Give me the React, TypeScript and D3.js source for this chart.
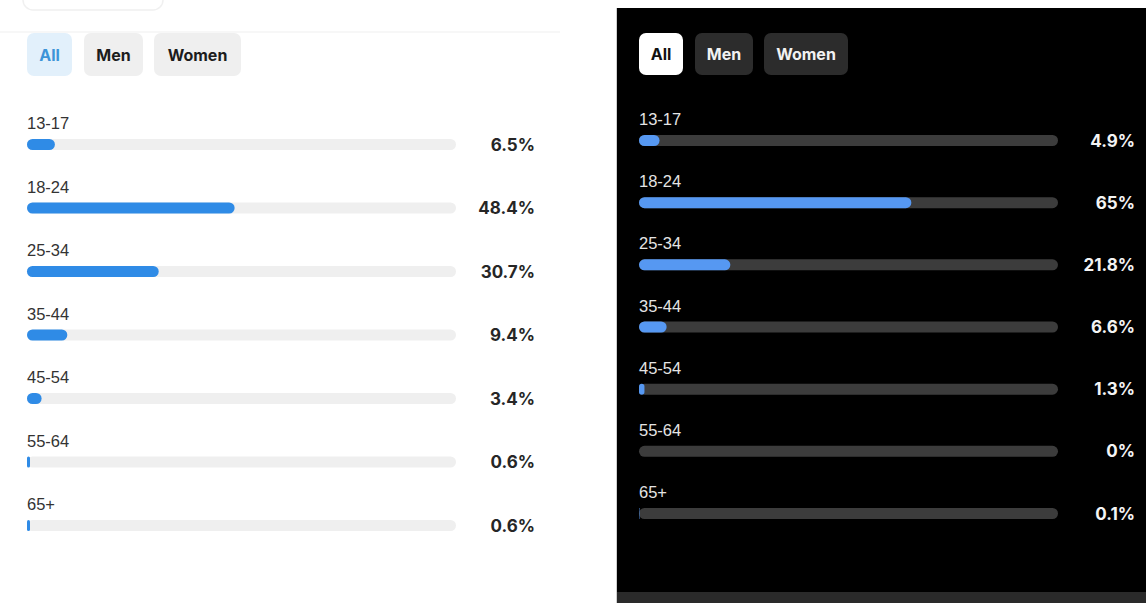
import React from "react";
import * as d3 from "d3";

const categories = ["13-17", "18-24", "25-34", "35-44", "45-54", "55-64", "65+"];
const lightValues = [6.5, 48.4, 30.7, 9.4, 3.4, 0.6, 0.6];
const darkValues = [4.9, 65, 21.8, 6.6, 1.3, 0, 0.1];
const filters = ["All", "Men", "Women"];

const FONT = "Inter, 'Noto Sans', 'Liberation Sans', sans-serif";
const LABEL_FONT = "'Liberation Sans', Arial, sans-serif";

type Theme = {
  trackX0: number;
  trackX1: number;
  firstBarTop: number;
  lastBarTop: number;
  barH: number;
  valueRight: number;
  track: string;
  fill: string;
  label: string;
  value: string;
  buttons: { x0: number; x1: number }[];
  btnY: number;
  btnH: number;
  btnBaseline: number;
  activeBg: string;
  activeText: string;
  btnBg: string;
  btnText: string;
  minW: number;
};

const lightTheme: Theme = {
  trackX0: 27,
  trackX1: 456,
  firstBarTop: 139,
  lastBarTop: 520,
  barH: 11,
  valueRight: 535,
  track: "#efefef",
  fill: "#2f8be6",
  label: "#333333",
  value: "#262626",
  buttons: [
    { x0: 27, x1: 72 },
    { x0: 84, x1: 143 },
    { x0: 154, x1: 241 },
  ],
  btnY: 33,
  btnH: 43,
  btnBaseline: 61,
  activeBg: "#e2f0fb",
  activeText: "#3d94d8",
  btnBg: "#efefef",
  btnText: "#1c1c1c",
  minW: 3,
};

const darkTheme: Theme = {
  trackX0: 639,
  trackX1: 1058,
  firstBarTop: 135,
  lastBarTop: 508,
  barH: 11,
  valueRight: 1135,
  track: "#3c3c3c",
  fill: "#5698f2",
  label: "#e4e4e4",
  value: "#f4f4f4",
  buttons: [
    { x0: 639, x1: 683 },
    { x0: 695, x1: 753 },
    { x0: 764, x1: 848 },
  ],
  btnY: 33,
  btnH: 42,
  btnBaseline: 60,
  activeBg: "#ffffff",
  activeText: "#111111",
  btnBg: "#2c2c2c",
  btnText: "#f2f2f2",
  minW: 0,
};

function fmt(v: number) {
  return `${d3.format("~r")(v)}%`;
}

function Panel({ theme, values }: { theme: Theme; values: number[] }) {
  const x = d3.scaleLinear().domain([0, 100]).range([theme.trackX0, theme.trackX1]);
  const y = d3
    .scalePoint<string>()
    .domain(categories)
    .range([theme.firstBarTop, theme.lastBarTop]);
  const h = theme.barH;
  return (
    <g>
      {filters.map((f, i) => {
        const b = theme.buttons[i];
        const active = i === 0;
        return (
          <g key={f}>
            <rect
              x={b.x0}
              y={theme.btnY}
              width={b.x1 - b.x0}
              height={theme.btnH}
              rx={7}
              fill={active ? theme.activeBg : theme.btnBg}
            />
            <text
              x={(b.x0 + b.x1) / 2}
              y={theme.btnBaseline}
              textAnchor="middle"
              fontFamily={FONT}
              fontSize={16}
              fontWeight={700}
              fill={active ? theme.activeText : theme.btnText}
            >
              {f}
            </text>
          </g>
        );
      })}
      {categories.map((c, i) => {
        const top = y(c)!;
        const v = values[i];
        let w = x(v) - x(0);
        if (v > 0 && w < theme.minW) w = theme.minW;
        return (
          <g key={c}>
            <text
              x={theme.trackX0}
              y={top - 10}
              fontFamily={LABEL_FONT}
              fontSize={16.5}
              fill={theme.label}
            >
              {c}
            </text>
            <rect
              x={theme.trackX0}
              y={top}
              width={theme.trackX1 - theme.trackX0}
              height={h}
              rx={h / 2}
              fill={theme.track}
            />
            {w > 0 && (
              <rect
                x={theme.trackX0}
                y={top}
                width={w}
                height={h}
                rx={Math.min(h / 2, w / 2)}
                fill={theme.fill}
              />
            )}
            <text
              x={theme.valueRight}
              y={top + h / 2}
              dy="0.36em"
              textAnchor="end"
              fontFamily={FONT}
              fontSize={17}
              fontWeight={700}
              fill={theme.value}
            >
              {fmt(v)}
            </text>
          </g>
        );
      })}
    </g>
  );
}

export default function App() {
  return (
    <svg
      width={1146}
      height={603}
      style={{ position: "absolute", left: 0, top: 0, display: "block" }}
    >
      <rect x={0} y={0} width={1146} height={603} fill="#ffffff" />
      {/* light panel chrome */}
      <rect x={23} y={-30} width={140} height={40} rx={10} fill="none" stroke="#f0f0f0" strokeWidth={1.5} />
      <line x1={0} x2={560} y1={32} y2={32} stroke="#f4f4f4" strokeWidth={1.5} />
      <Panel theme={lightTheme} values={lightValues} />
      {/* dark panel */}
      <rect x={616} y={8} width={1} height={595} fill="#cfcfcf" />
      <rect x={617} y={8} width={529} height={595} fill="#000000" />
      <rect x={617} y={592} width={529} height={11} fill="#2a2a2a" />
      <Panel theme={darkTheme} values={darkValues} />
    </svg>
  );
}
